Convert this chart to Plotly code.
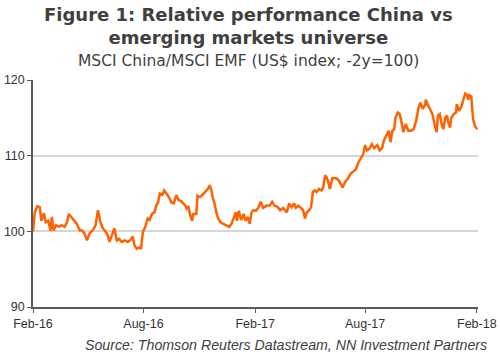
import plotly.graph_objects as go

dates = [
    "2016-02-01", "2016-02-03", "2016-02-04", "2016-02-08", "2016-02-12", "2016-02-15", "2016-02-19", "2016-02-22",
    "2016-02-26", "2016-03-01", "2016-03-03", "2016-03-06", "2016-03-10", "2016-03-15", "2016-03-19", "2016-03-24",
    "2016-03-28", "2016-03-31", "2016-04-04", "2016-04-10", "2016-04-13", "2016-04-18", "2016-04-22", "2016-04-26",
    "2016-04-30", "2016-05-04", "2016-05-10", "2016-05-14", "2016-05-18", "2016-05-22", "2016-05-26", "2016-05-31",
    "2016-06-03", "2016-06-06", "2016-06-10", "2016-06-14", "2016-06-18", "2016-06-22", "2016-06-26", "2016-07-01",
    "2016-07-06", "2016-07-10", "2016-07-14", "2016-07-17", "2016-07-21", "2016-07-25", "2016-07-28", "2016-07-31",
    "2016-08-04", "2016-08-08", "2016-08-11", "2016-08-15", "2016-08-19", "2016-08-22", "2016-08-25", "2016-08-28",
    "2016-09-01", "2016-09-04", "2016-09-08", "2016-09-12", "2016-09-16", "2016-09-20", "2016-09-24", "2016-09-28",
    "2016-10-02", "2016-10-06", "2016-10-09", "2016-10-11", "2016-10-14", "2016-10-17", "2016-10-20", "2016-10-22",
    "2016-10-27", "2016-10-29", "2016-11-02", "2016-11-07", "2016-11-11", "2016-11-15", "2016-11-18", "2016-11-21",
    "2016-11-23", "2016-11-26", "2016-11-29", "2016-12-02", "2016-12-06", "2016-12-10", "2016-12-16", "2016-12-20",
    "2016-12-24", "2016-12-28", "2016-12-31", "2017-01-02", "2017-01-05", "2017-01-09", "2017-01-13", "2017-01-16",
    "2017-01-20", "2017-01-23", "2017-01-26", "2017-01-29", "2017-02-02", "2017-02-06", "2017-02-10", "2017-02-14",
    "2017-02-20", "2017-02-25", "2017-03-01", "2017-03-05", "2017-03-10", "2017-03-14", "2017-03-19", "2017-03-25",
    "2017-03-29", "2017-04-02", "2017-04-06", "2017-04-09", "2017-04-13", "2017-04-17", "2017-04-21", "2017-04-24",
    "2017-04-27", "2017-05-01", "2017-05-04", "2017-05-07", "2017-05-10", "2017-05-13", "2017-05-17", "2017-05-21",
    "2017-05-24", "2017-05-27", "2017-05-30", "2017-06-01", "2017-06-04", "2017-06-08", "2017-06-14", "2017-06-18",
    "2017-06-22", "2017-06-25", "2017-06-29", "2017-07-04", "2017-07-08", "2017-07-13", "2017-07-17", "2017-07-21",
    "2017-07-25", "2017-07-29", "2017-08-01", "2017-08-04", "2017-08-08", "2017-08-12", "2017-08-16", "2017-08-21",
    "2017-08-25", "2017-08-29", "2017-09-01", "2017-09-05", "2017-09-09", "2017-09-12", "2017-09-15", "2017-09-18",
    "2017-09-20", "2017-09-24", "2017-09-27", "2017-09-30", "2017-10-03", "2017-10-07", "2017-10-11", "2017-10-16",
    "2017-10-20", "2017-10-24", "2017-10-28", "2017-10-31", "2017-11-04", "2017-11-08", "2017-11-09", "2017-11-13",
    "2017-11-17", "2017-11-20", "2017-11-24", "2017-11-27", "2017-11-29", "2017-12-02", "2017-12-05", "2017-12-08",
    "2017-12-11", "2017-12-14", "2017-12-16", "2017-12-19", "2017-12-21", "2017-12-25", "2017-12-29", "2017-12-30",
    "2018-01-03", "2018-01-07", "2018-01-10", "2018-01-13", "2018-01-16", "2018-01-18", "2018-01-20", "2018-01-23",
    "2018-01-24", "2018-01-26", "2018-01-29", "2018-02-02",
]

values = [
    100.0, 101.2, 102.5, 103.3, 103.2, 101.4, 102.4, 101.2,
    101.4, 100.1, 101.9, 100.1, 100.8, 100.6, 100.8, 100.6,
    101.2, 102.3, 101.9, 101.2, 101.0, 100.1, 100.1, 99.7,
    98.8, 99.7, 100.2, 100.8, 102.8, 101.2, 100.4, 99.9,
    99.5, 98.6, 99.5, 100.4, 98.8, 99.0, 98.6, 98.8,
    98.6, 98.8, 99.3, 98.2, 97.7, 97.9, 97.7, 99.9,
    100.6, 101.7, 101.5, 102.3, 102.5, 103.4, 103.8, 105.0,
    104.8, 105.4, 105.0, 104.5, 103.8, 103.7, 104.8, 104.1,
    104.0, 103.6, 103.4, 103.0, 103.3, 102.1, 101.4, 102.3,
    102.3, 104.7, 104.5, 104.9, 105.2, 105.6, 106.1, 105.4,
    104.5, 103.7, 102.5, 101.7, 101.2, 101.0, 100.8, 100.6,
    101.0, 101.9, 102.5, 101.4, 102.7, 101.5, 102.3, 101.4,
    101.9, 101.0, 102.5, 102.8, 102.7, 103.1, 103.9, 103.1,
    103.4, 103.4, 103.9, 103.4, 103.2, 102.8, 103.1, 102.5,
    103.7, 103.2, 103.7, 103.1, 103.4, 103.1, 102.8, 101.7,
    102.5, 102.8, 103.2, 105.2, 105.4, 105.2, 105.6, 105.4,
    105.8, 107.4, 107.1, 106.6, 105.6, 107.0, 107.0, 106.8,
    106.3, 105.8, 106.5, 107.0, 107.6, 108.0, 108.2, 109.1,
    109.6, 110.2, 111.4, 110.7, 110.9, 111.5, 111.0, 111.4,
    110.7, 111.0, 112.0, 112.6, 113.3, 111.8, 113.3, 113.5,
    115.0, 115.7, 115.5, 114.4, 113.1, 114.2, 113.3, 113.3,
    113.5, 114.6, 116.3, 117.0, 116.2, 116.7, 117.4, 116.6,
    115.9, 115.5, 113.9, 113.1, 115.3, 115.5, 114.2, 113.5,
    115.0, 115.3, 114.4, 113.7, 115.0, 115.5, 115.7, 116.8,
    115.9, 116.6, 117.4, 118.2, 118.0, 117.4, 118.0, 117.8,
    116.6, 114.8, 113.9, 113.5,
]

tick_dates = ["2016-02-01", "2016-08-01", "2017-02-01", "2017-08-01", "2018-02-01"]
tick_labels = ["Feb-16", "Aug-16", "Feb-17", "Aug-17", "Feb-18"]
y_ticks = [90, 100, 110, 120]

title_lines = ["Figure 1: Relative performance China vs", "emerging markets universe"]
subtitle = "MSCI China/MSCI EMF (US$ index; -2y=100)"
source = "Source: Thomson Reuters Datastream, NN Investment Partners"

fig = go.Figure()
fig.add_trace(go.Scatter(
    x=dates, y=values, mode="lines",
    line=dict(color="#FF6200", width=2.5),
    hoverinfo="skip", showlegend=False,
))

axis_col = "#595959"
fig.update_layout(
    width=500, height=359,
    margin=dict(l=33, r=22, t=80, b=52),
    paper_bgcolor="white", plot_bgcolor="white",
    font=dict(family="Liberation Sans, Arial, sans-serif", color="#333333", size=12),
    xaxis=dict(
        type="date", range=["2016-02-01", "2018-02-03"],
        tickvals=tick_dates, ticktext=tick_labels, automargin=False,
        showgrid=False, zeroline=False,
        showline=True, linecolor=axis_col, linewidth=1.5,
        ticks="outside", ticklen=4, tickcolor=axis_col, tickwidth=1.2,
        tickfont=dict(size=12.5, color="#333333"),
    ),
    yaxis=dict(
        range=[90, 120], tickvals=y_ticks, automargin=False,
        showgrid=True, gridcolor="#d6d6d6", gridwidth=1.5, zeroline=False,
        showline=True, linecolor=axis_col, linewidth=1.5,
        ticks="outside", ticklen=4, tickcolor=axis_col, tickwidth=1.2,
        tickfont=dict(size=12.5, color="#333333"),
    ),
)

fig.add_annotation(text="<b>" + "<br>".join(title_lines) + "</b>", xref="paper", yref="paper",
                   x=0.484, y=1.238, xanchor="center", yanchor="middle",
                   showarrow=False, borderpad=0,
                   font=dict(family="DejaVu Sans, sans-serif", size=18, color="#3f3f3f"))
fig.add_annotation(text=subtitle, xref="paper", yref="paper",
                   x=0.484, y=1.084, xanchor="center", yanchor="middle",
                   showarrow=False,
                   font=dict(family="DejaVu Sans, sans-serif", size=15.5, color="#3f3f3f"))
fig.add_annotation(text="<i>" + source + "</i>", xref="paper", yref="paper",
                   x=1.024, y=-0.167, xanchor="right", yanchor="middle",
                   showarrow=False,
                   font=dict(family="Liberation Sans, Arial, sans-serif", size=14.2, color="#404040"))

fig.write_html("out.html", config={"displayModeBar": False},
               post_script="document.body.style.margin='0';")
